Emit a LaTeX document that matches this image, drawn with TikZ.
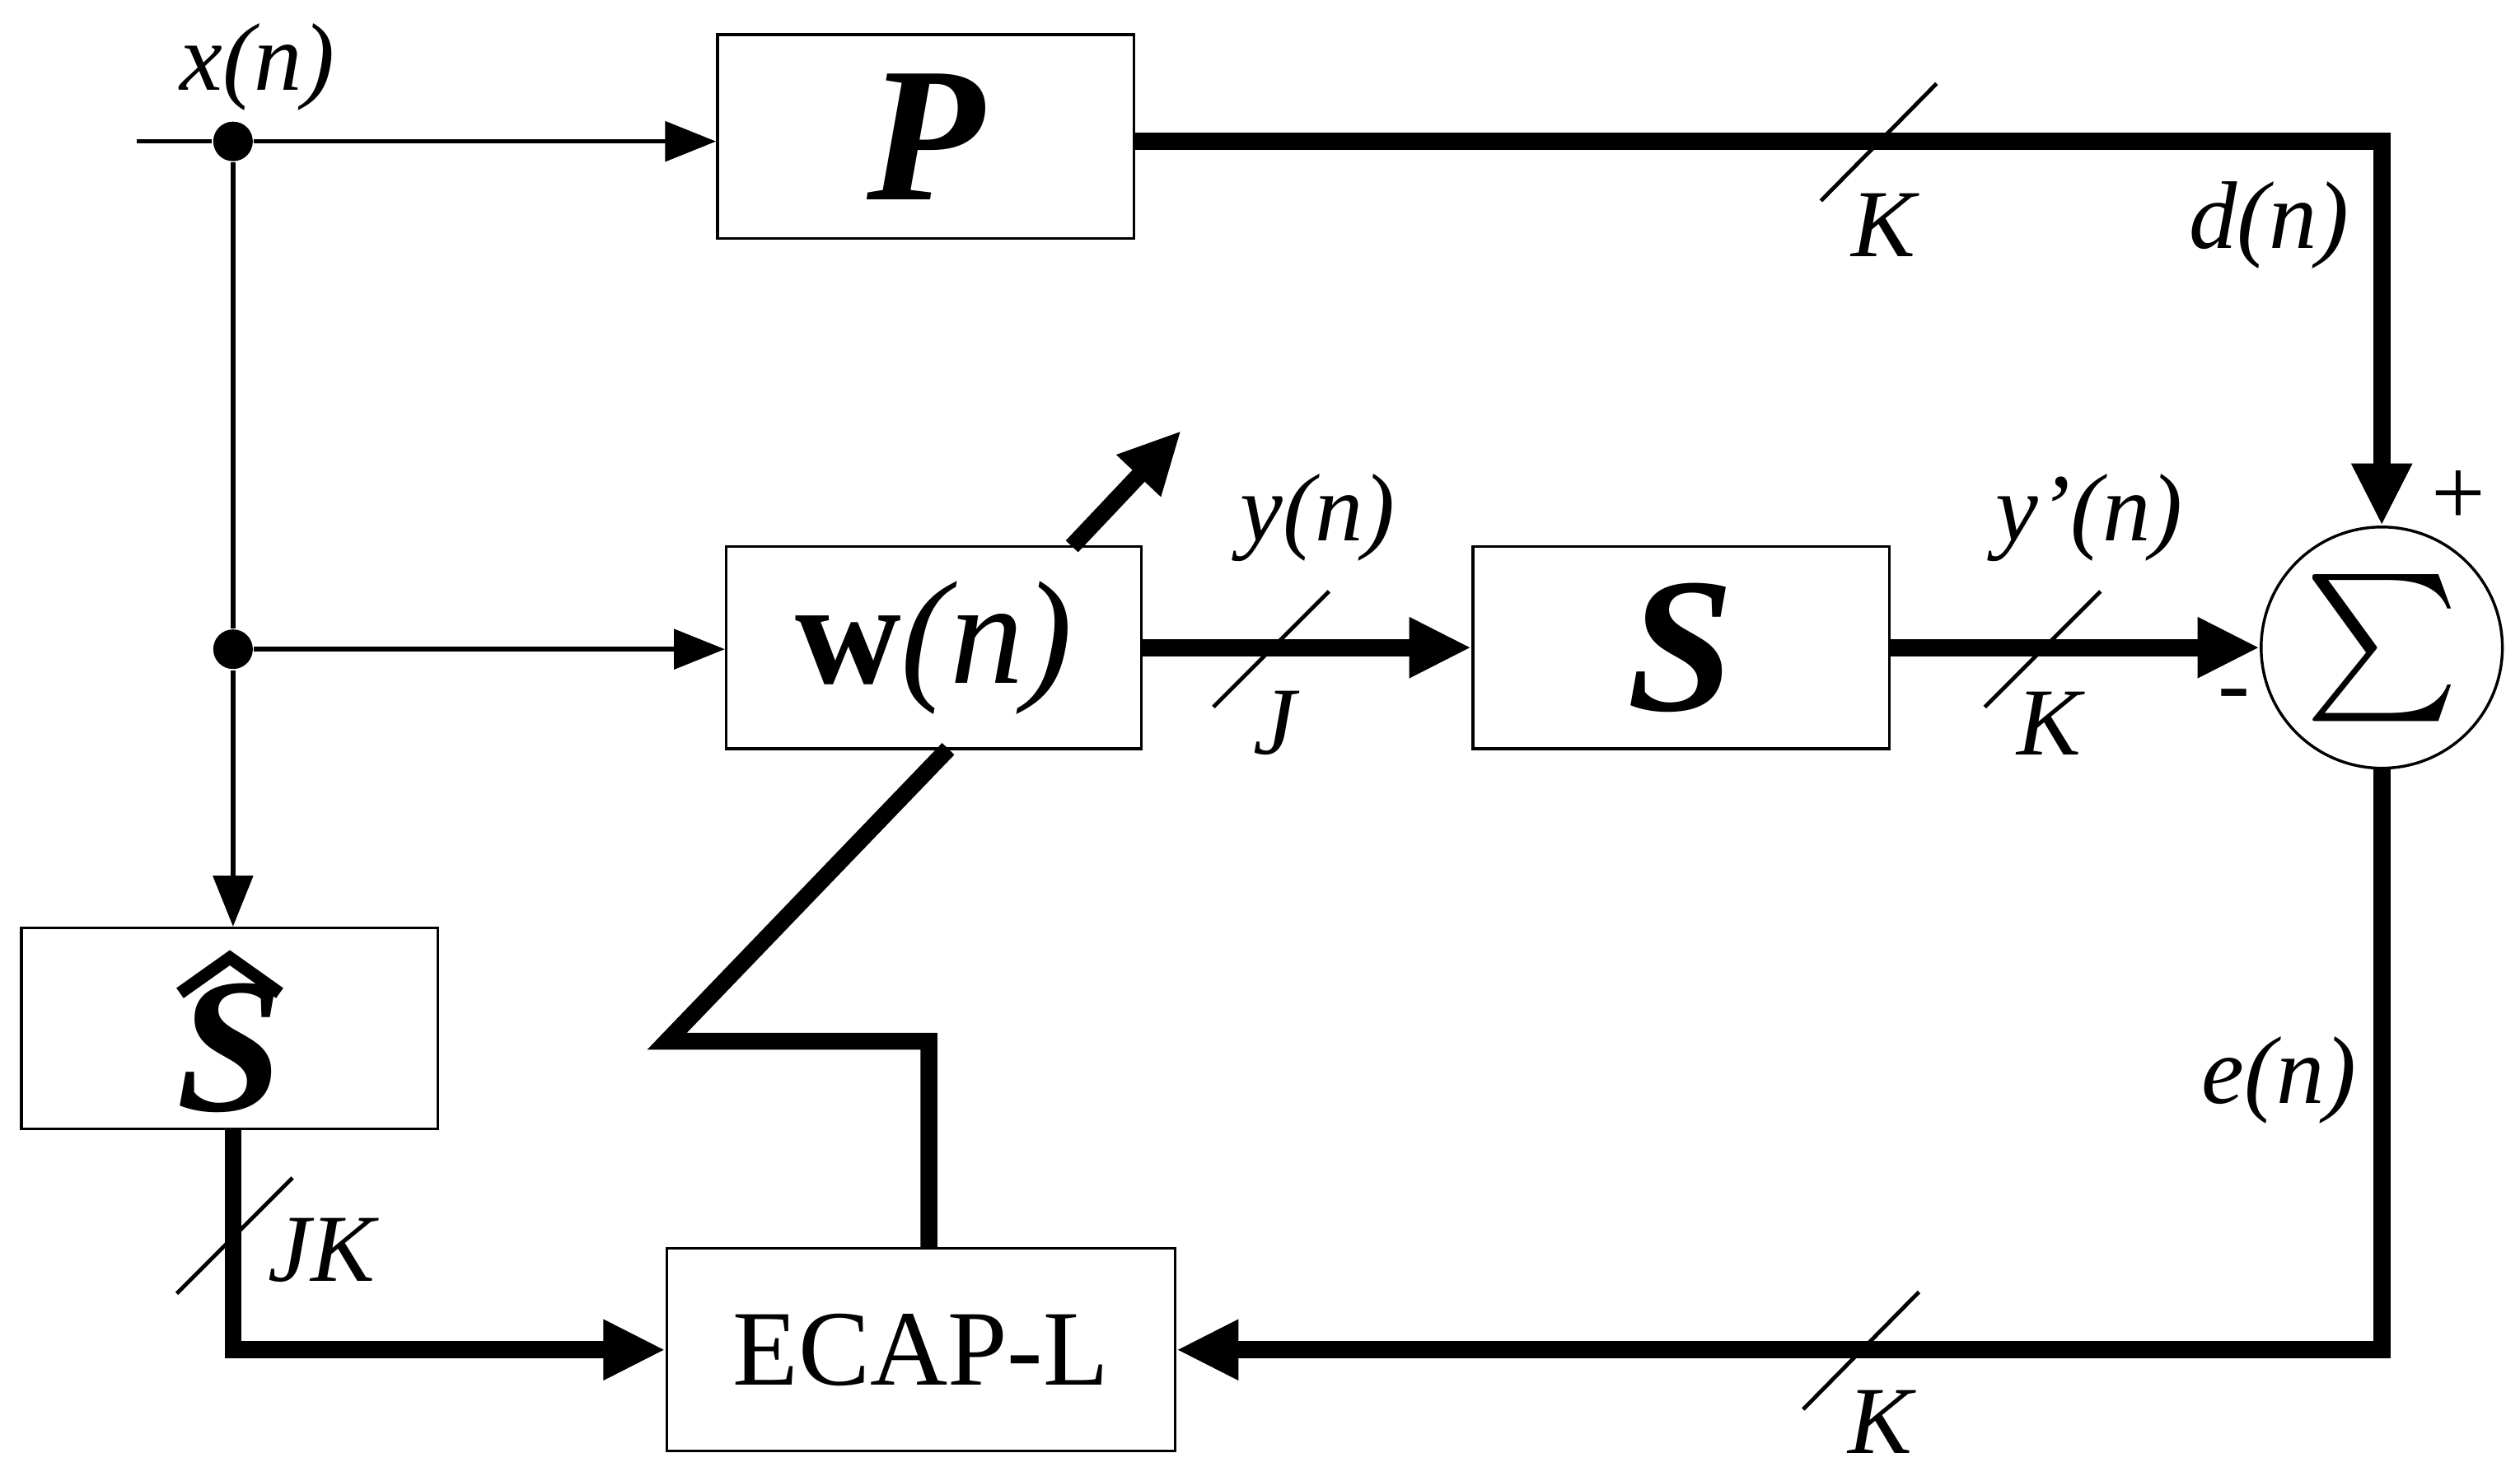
\documentclass[tikz,border=0pt]{standalone}
\usepackage{fontspec}
\setmainfont{Liberation Serif}
\usetikzlibrary{arrows.meta}
\begin{document}
\begin{tikzpicture}[x=0.01cm,y=-0.01cm,
 box/.style={draw,line width=0.5pt,inner sep=0},
 thin/.style={line width=0.8pt,-{Triangle[length=9pt,width=7pt]}},
 thk/.style={line width=3pt,-{Triangle[length=11pt,width=10pt]}},
 thkl/.style={line width=3pt},
 sl/.style={line width=0.7pt},
 lab/.style={font=\fontsize{17}{17}\selectfont\itshape},
 dot/.style={circle,fill,inner sep=0,minimum size=7pt}]
\useasboundingbox (0,0) rectangle (1568,921.6);
\node[box] (P) at (576,85) [minimum width=2.59cm,minimum height=1.27cm] {\fontsize{34}{34}\selectfont\bfseries\itshape P};
\node[box] (W) at (581,403) [minimum width=2.58cm,minimum height=1.26cm] {\fontsize{26}{26}\selectfont\textbf{w}\textit{(n)}};
\node[box] (S) at (1046,403) [minimum width=2.59cm,minimum height=1.26cm] {\fontsize{34}{34}\selectfont\bfseries\itshape S};
\node[box] (SH) at (143,640) [minimum width=2.59cm,minimum height=1.25cm] {};
\node at (143,652) {\fontsize{34}{34}\selectfont\bfseries\itshape S};
\draw[line width=2.2pt,line join=miter] (112,618) -- (143,596) -- (174,618);
\node[box] (E) at (573,840) [minimum width=3.16cm,minimum height=1.26cm] {\fontsize{19}{19}\selectfont ECAP-L};
\node[draw,circle,line width=0.5pt,minimum size=1.5cm,inner sep=0] (Sum) at (1482,403) {\scalebox{2.6}{$\sum$}};
\node[dot] (d1) at (145,88) {};
\node[dot] (d2) at (145,404) {};
\coordinate (x0) at (85,88);
\draw[line width=0.8pt] (x0) -- (d1);
\draw[thin] (d1) -- (P.west |- d1);
\draw[line width=0.8pt] (d1) -- (d2);
\draw[thin] (d2) -- (d2 |- SH.north);
\draw[thin] (d2) -- (W.west |- d2);
\draw[thk] (P.east |- 0,88) -| (Sum.north);
\draw[thk] (W.east) -- (S.west);
\draw[thk] (S.east) -- (Sum.west);
\draw[thk] (Sum.south) |- (E.east);
\draw[thk] (SH.south -| 145,0) |- (E.west);
\coordinate (c1) at (578,648); \coordinate (c2) at (415,648); \coordinate (c3) at (590,466);
\draw[thkl,line join=miter] (E.north -| 578,0) -- (c1) -- (c2) -- (c3);
\coordinate (a1) at (667,340); \coordinate (a2) at (735,268);
\draw[thk] (a1) -- (a2);
\draw[sl] (1133,125) -- (1205,52);
\draw[sl] (755,440) -- (827,368);
\draw[sl] (1235,440) -- (1307,368);
\draw[sl] (1122,877) -- (1194,804);
\draw[sl] (110,805) -- (182,733);
\node[lab] at (160,42) {x(n)};
\node[lab] at (1172,140) {K};
\node[lab] at (1412,140) {d(n)};
\node[lab] at (820,322) {y(n)};
\node[lab] at (793,450) {J};
\node[lab] at (1300,322) {y’(n)};
\node[lab] at (1275,450) {K};
\node[font=\fontsize{17}{17}\selectfont] at (1390,437) {-};
\node[font=\fontsize{17}{17}\selectfont] at (1530,310) {+};
\node[lab] at (1418,672) {e(n)};
\node[lab] at (1170,885) {K};
\node[lab] at (200,778) {JK};
\end{tikzpicture}
\end{document}
